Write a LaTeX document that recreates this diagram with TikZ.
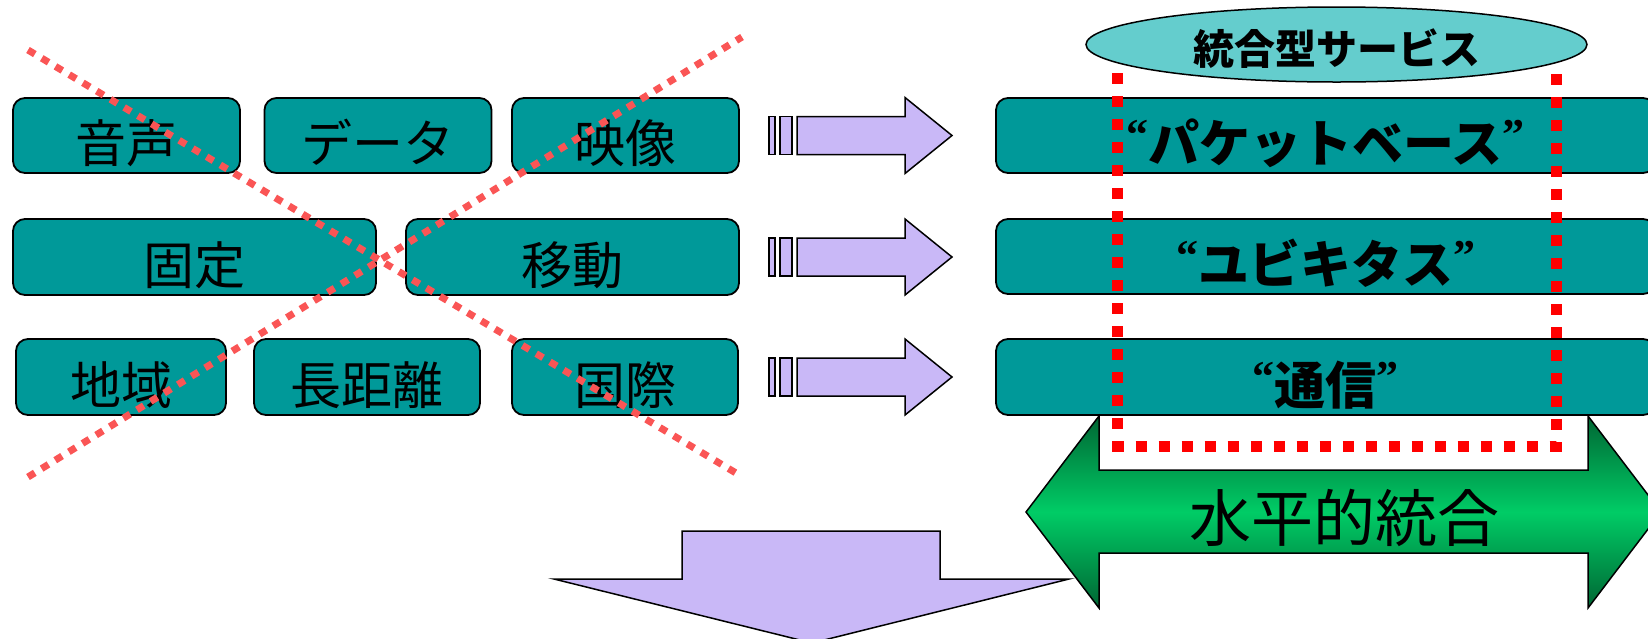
\documentclass[tikz,border=0pt]{standalone}
\usepackage{fontspec}
\usetikzlibrary{shapes.geometric}
\newfontfamily\cjk{Noto Sans CJK JP}
\newfontfamily\qfont{Liberation Serif}
\definecolor{tealc}{RGB}{0,153,153}
\definecolor{lav}{RGB}{201,184,247}
\definecolor{xred}{RGB}{250,85,85}
\definecolor{cyanp}{RGB}{100,205,205}
\definecolor{gdark}{RGB}{0,102,51}
\definecolor{gbright}{RGB}{0,204,102}
\newcommand\myoq{\raisebox{13pt}{\qfont\bfseries\fontsize{44pt}{44pt}\selectfont “}}
\newcommand\mycq{\raisebox{13pt}{\qfont\bfseries\fontsize{44pt}{44pt}\selectfont ”}}
\tikzset{
  tealbox/.style={draw=black, line width=1.8pt, fill=tealc, rounded corners=12pt,
    inner sep=0pt, text height=54pt, text depth=0pt,
    font=\cjk\fontsize{51pt}{60pt}\selectfont},
  rowbox/.style={tealbox, font=\cjk\bfseries\fontsize{51pt}{60pt}\selectfont},
  xline/.style={draw=xred, line width=7pt, dash pattern=on 8pt off 8pt},
  rline/.style={draw=red, line width=11pt, dash pattern=on 11pt off 12pt},
  arrowshape/.style={draw=black, line width=1.5pt, fill=lav},
}
\begin{document}
\begin{tikzpicture}[x=1pt,y=-1pt]
\useasboundingbox (0,0) rectangle (1648,638);
\clip (0,0) rectangle (1648,638);

% left boxes
\node[tealbox, minimum width=227pt, minimum height=75pt] (b1) at (126.5,135.5) {音声};
\node[tealbox, minimum width=227pt, minimum height=75pt] (b2) at (378,135.5) {データ};
\node[tealbox, minimum width=227pt, minimum height=75pt] (b3) at (625.5,135.5) {映像};
\node[tealbox, minimum width=363pt, minimum height=76pt] (b4) at (194.5,257) {固定};
\node[tealbox, minimum width=333pt, minimum height=76pt] (b5) at (572.5,257) {移動};
\node[tealbox, minimum width=210pt, minimum height=76pt] (b6) at (121,377) {地域};
\node[tealbox, minimum width=226pt, minimum height=76pt] (b7) at (367,377) {長距離};
\node[tealbox, minimum width=226pt, minimum height=76pt] (b8) at (625,377) {国際};

% red X
\coordinate (xa1) at (28,50);
\coordinate (xa2) at (741,476);
\coordinate (xb1) at (28,477);
\coordinate (xb2) at (742,37);
\draw[xline] (xa1) -- (xa2);
\draw[xline] (xb1) -- (xb2);

% small right arrows
\foreach \yc in {135.5,257,377}{
  \draw[arrowshape] (769,\yc-19) rectangle (775,\yc+19);
  \draw[arrowshape] (780,\yc-19) rectangle (792,\yc+19);
  \draw[arrowshape] (797,\yc-19) -- (905,\yc-19) -- (905,\yc-38) -- (952,\yc)
     -- (905,\yc+38) -- (905,\yc+19) -- (797,\yc+19) -- cycle;
}

% right boxes
\node[rowbox, minimum width=659pt, minimum height=75pt] (r1) at (1325.5,135.5) {\myoq パケットベース\mycq};
\node[rowbox, minimum width=659pt, minimum height=75pt] (r2) at (1325.5,256.5) {\myoq ユビキタス\mycq};
\node[rowbox, minimum width=659pt, minimum height=76pt] (r3) at (1325.5,377) {\myoq 通信\mycq};

% green double arrow
\draw[black, line width=1.5pt, top color=gdark, bottom color=gdark, middle color=gbright]
  (1026,512) -- (1099,416) -- (1099,470) -- (1588,470) -- (1588,416) -- (1661,512)
  -- (1588,608) -- (1588,553) -- (1099,553) -- (1099,608) -- cycle;
\node[font=\cjk\fontsize{62pt}{70pt}\selectfont, inner sep=0pt, anchor=base] (hz) at (1344,541) {水平的統合};

% bottom down arrow
\draw[arrowshape] (682,531) -- (940,531) -- (940,579) -- (1069,579) -- (812,643)
  -- (554,579) -- (682,579) -- cycle;

% red dotted rectangle
\draw[rline] (1117.5,50) rectangle (1556,446);

% ellipse
\coordinate (svcc) at (1336.5,44.5);
\draw[draw=black, line width=1.5pt, fill=cyanp] (svcc) ellipse [x radius=250.5pt, y radius=37.5pt];
\node[inner sep=0pt, text height=40pt, text depth=0pt,
  font=\cjk\bfseries\fontsize{41pt}{48pt}\selectfont] (svc) at (svcc) {統合型サービス};
\end{tikzpicture}
\end{document}
